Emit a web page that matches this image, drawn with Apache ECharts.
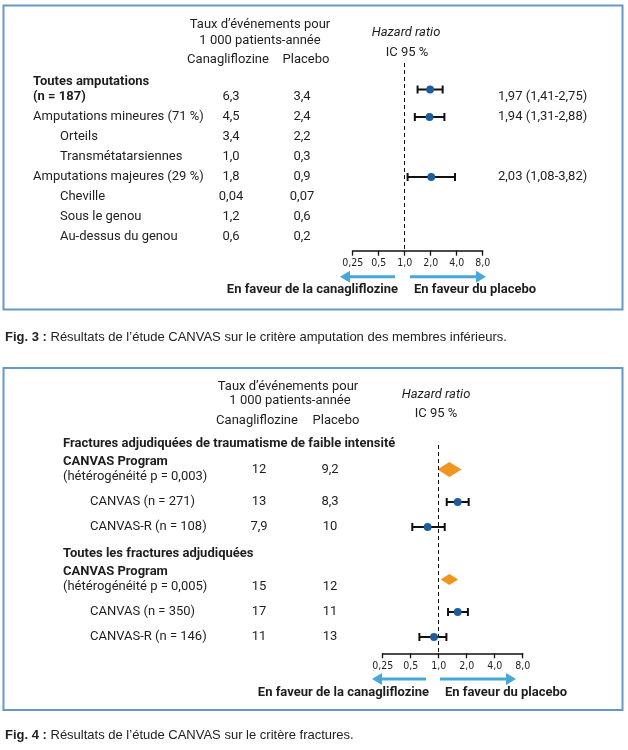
<!DOCTYPE html>
<html><head><meta charset="utf-8">
<script src="https://cdn.jsdelivr.net/npm/echarts@6/dist/echarts.min.js"></script>
<style>html,body{margin:0;padding:0;background:#fff}#c{width:628px;height:750px}</style>
</head><body><div id="c"></div>
<script>
// ---------- DATA ----------
const tickValues = [0.25, 0.5, 1, 2, 4, 8];
const tickLabels = ["0,25", "0,5", "1,0", "2,0", "4,0", "8,0"];

// Fig. 3 – amputations
const fig1Labels = ["Toutes amputations\n(n = 187)", "Amputations mineures (71 %)", "Orteils", "Transmétatarsiennes",
  "Amputations majeures (29 %)", "Cheville", "Sous le genou", "Au-dessus du genou"];
const fig1Indent = [0, 0, 1, 1, 0, 1, 1, 1];
const fig1Bold = [1, 0, 0, 0, 0, 0, 0, 0];
const fig1Canagliflozine = ["6,3", "4,5", "3,4", "1,0", "1,8", "0,04", "1,2", "0,6"];
const fig1Placebo = ["3,4", "2,4", "2,2", "0,3", "0,9", "0,07", "0,6", "0,2"];
const fig1HR = [1.97, 1.94, null, null, 2.03, null, null, null];
const fig1Low = [1.41, 1.31, null, null, 1.08, null, null, null];
const fig1High = [2.75, 2.88, null, null, 3.82, null, null, null];

// Fig. 4 – fractures
const fig2Labels = ["Fractures adjudiquées de traumatisme de faible intensité",
  "CANVAS Program\n(hétérogénéité p = 0,003)", "CANVAS (n = 271)", "CANVAS-R (n = 108)",
  "Toutes les fractures adjudiquées",
  "CANVAS Program\n(hétérogénéité p = 0,005)", "CANVAS (n = 350)", "CANVAS-R (n = 146)"];
const fig2Kind = ["heading", "pooled", "study", "study", "heading", "pooled", "study", "study"];
const fig2Canagliflozine = [null, "12", "13", "7,9", null, "15", "17", "11"];
const fig2Placebo = [null, "9,2", "8,3", "10", null, "12", "11", "13"];
const fig2HR = [null, 1.30, 1.60, 0.76, null, 1.30, 1.60, 0.89];
const fig2Low = [null, 0.97, 1.22, 0.52, null, 1.05, 1.26, 0.62];
const fig2High = [null, 1.76, 2.10, 1.16, null, 1.62, 2.06, 1.21];

// ---------- LAYOUT / STYLE ----------
const FONT = "Roboto, 'Noto Sans', sans-serif";
const NARROW = "'Liberation Sans Narrow', 'DejaVu Sans Condensed', Roboto, sans-serif";
const CAPFONT = "'Liberation Sans', Arial, sans-serif";
const FS = 13;
const TXT = "#1e1e1e";
const BLUE_DOT = "#1d5c9d";
const ORANGE = "#f0951d";
const ARROW = "#47a7d8";
const BOX = "#6598c5";
const LINE_STEP = 15;

const tableItems = [];
function addText(x, y, text, o) {
  tableItems.push(Object.assign({ x: x, y: y, text: text, align: 'left', weight: 'normal', size: FS }, o || {}));
}
const fmt = v => v.toFixed(2).replace('.', ',');

// figure 1 rows
const fig1RowY = [];
(function () {
  let y = 82;
  fig1Labels.forEach((lab, i) => {
    const lines = lab.split('\n');
    const last = y + (lines.length - 1) * LINE_STEP;
    const center = (y + last) / 2;
    lines.forEach((ln, k) => addText(fig1Indent[i] ? 60 : 33, y + k * LINE_STEP, ln, { weight: fig1Bold[i] ? 'bold' : 'normal' }));
    addText(231, last, fig1Canagliflozine[i], { align: 'center' });
    addText(302, last, fig1Placebo[i], { align: 'center' });
    if (fig1HR[i] != null) addText(498, last, fmt(fig1HR[i]) + ' (' + fmt(fig1Low[i]) + '-' + fmt(fig1High[i]) + ')');
    fig1RowY.push(center);
    y = last + 20;
  });
})();

// figure 2 rows
const fig2RowY = [];
const fig2ValueAt = [null, 'center', 'center', 'center', null, 'last', 'center', 'center'];
(function () {
  let y = 444;
  fig2Labels.forEach((lab, i) => {
    const kind = fig2Kind[i];
    const lines = lab.split('\n');
    const last = y + (lines.length - 1) * LINE_STEP;
    const center = (y + last) / 2;
    lines.forEach((ln, k) => {
      const bold = kind === 'heading' || (kind === 'pooled' && k === 0);
      addText(kind === 'study' ? 90 : 63, y + k * LINE_STEP, ln, { weight: bold ? 'bold' : 'normal' });
    });
    if (fig2Canagliflozine[i] != null) {
      const vy = fig2ValueAt[i] === 'last' ? last : center;
      addText(259, vy, fig2Canagliflozine[i], { align: 'center' });
      addText(330, vy, fig2Placebo[i], { align: 'center' });
    }
    fig2RowY.push(center);
    const next = fig2Kind[i + 1];
    let gap = 25;
    if (kind === 'heading') gap = 18;
    else if (next === 'heading') gap = 27;
    y = last + gap;
  });
})();

// ---------- CHART ----------
const chart = echarts.init(document.getElementById('c'), null, { renderer: 'canvas', width: 628, height: 750 });

function forestAxis(gridIndex) {
  return {
    gridIndex: gridIndex, type: 'log', logBase: 2, min: 0.25, max: 8, splitNumber: 5,
    axisLine: { show: true, onZero: false, lineStyle: { color: '#111', width: 1.5 } },
    axisTick: { show: true, length: 5, lineStyle: { color: '#111', width: 1.3 } },
    splitLine: { show: false },
    axisLabel: {
      show: true, margin: 7, color: TXT, fontSize: 10.5, fontFamily: NARROW, showMinLabel: true, showMaxLabel: true,
      formatter: v => { const i = tickValues.findIndex(t => Math.abs(t - v) < 1e-6); return i >= 0 ? tickLabels[i] : ''; }
    }
  };
}

function renderCI(params, api) {
  const y = api.value(3);
  const pc = api.coord([api.value(0), y]);
  const pl = api.coord([api.value(1), y]);
  const ph = api.coord([api.value(2), y]);
  const cy = pc[1], cap = 4;
  const st = { stroke: '#111', lineWidth: 2 };
  return {
    type: 'group', children: [
      { type: 'line', shape: { x1: pl[0], y1: cy, x2: ph[0], y2: cy }, style: st },
      { type: 'line', shape: { x1: pl[0], y1: cy - cap, x2: pl[0], y2: cy + cap }, style: st },
      { type: 'line', shape: { x1: ph[0], y1: cy - cap, x2: ph[0], y2: cy + cap }, style: st },
      { type: 'circle', shape: { cx: pc[0], cy: cy, r: 3.9 }, style: { fill: BLUE_DOT } }
    ]
  };
}
function renderDiamond(params, api) {
  const y = api.value(3);
  const pc = api.coord([api.value(0), y]);
  const pl = api.coord([api.value(1), y]);
  const ph = api.coord([api.value(2), y]);
  const h = (ph[0] - pl[0]) * 0.63;
  return {
    type: 'polygon',
    shape: { points: [[pl[0], pc[1]], [pc[0], pc[1] - h / 2], [ph[0], pc[1]], [pc[0], pc[1] + h / 2]] },
    style: { fill: ORANGE }
  };
}
function renderText(params, api) {
  const it = tableItems[params.dataIndex];
  const p = api.coord([api.value(0), api.value(1)]);
  return {
    type: 'text', x: p[0], y: p[1],
    style: { text: it.text, fill: TXT, fontSize: it.size, fontWeight: it.weight, fontFamily: FONT, align: it.align, verticalAlign: 'middle' }
  };
}

const dashLine = { silent: true, symbol: 'none', label: { show: false }, lineStyle: { color: '#111', width: 1, type: [4, 3] }, data: [{ xAxis: 1 }] };

const fig1Data = [], fig2Study = [], fig2Pooled = [];
fig1HR.forEach((v, i) => { if (v != null) fig1Data.push([v, fig1Low[i], fig1High[i], fig1RowY[i]]); });
fig2HR.forEach((v, i) => {
  if (v == null) return;
  const d = [v, fig2Low[i], fig2High[i], fig2RowY[i]];
  (fig2Kind[i] === 'pooled' ? fig2Pooled : fig2Study).push(d);
});

// decorations
function arrows(y, l0, l1, r0, r1) {
  const s = { stroke: ARROW, lineWidth: 3 };
  return [
    { type: 'polyline', shape: { points: [[l0, y], [l1 + 8, y]] }, style: s },
    { type: 'polygon', shape: { points: [[l1, y], [l1 + 10, y - 6], [l1 + 10, y + 6]] }, style: { fill: ARROW } },
    { type: 'polyline', shape: { points: [[r0, y], [r1 - 8, y]] }, style: s },
    { type: 'polygon', shape: { points: [[r1, y], [r1 - 10, y - 6], [r1 - 10, y + 6]] }, style: { fill: ARROW } }
  ];
}
function txt(x, y, text, o) {
  return { type: 'text', x: x, y: y, style: Object.assign({ text: text, fill: TXT, fontSize: FS, fontFamily: FONT, align: 'center', verticalAlign: 'middle' }, o || {}) };
}
const capRich = { b: { fontWeight: 'bold', fontFamily: CAPFONT, fontSize: 13, fill: '#222' } };

const graphics = [
  { type: 'rect', z: -1, shape: { x: 3.5, y: 5.5, width: 619, height: 304 }, style: { fill: 'none', stroke: BOX, lineWidth: 2 } },
  { type: 'rect', z: -1, shape: { x: 3.5, y: 368, width: 619, height: 342 }, style: { fill: 'none', stroke: BOX, lineWidth: 2 } },
  // fig 1 header
  txt(260, 25, "Taux d’événements pour"),
  txt(260, 41, "1 000 patients-année"),
  txt(228, 60, "Canagliflozine"),
  txt(306, 60, "Placebo"),
  txt(406, 33, "Hazard ratio", { fontStyle: 'italic' }),
  txt(407, 53, "IC 95 %"),
  txt(398, 290, "En faveur de la canagliflozine", { align: 'right', fontWeight: 'bold' }),
  txt(414, 290, "En faveur du placebo", { align: 'left', fontWeight: 'bold' }),
  // fig 2 header
  txt(288, 387, "Taux d’événements pour"),
  txt(290, 401, "1 000 patients-année"),
  txt(257, 421, "Canagliflozine"),
  txt(336, 421, "Placebo"),
  txt(436, 395, "Hazard ratio", { fontStyle: 'italic' }),
  txt(436, 414, "IC 95 %"),
  txt(429, 693, "En faveur de la canagliflozine", { align: 'right', fontWeight: 'bold' }),
  txt(445, 693, "En faveur du placebo", { align: 'left', fontWeight: 'bold' }),
  // captions
  { type: 'text', x: 5, y: 337, style: { text: "{b|Fig. 3 :} Résultats de l’étude CANVAS sur le critère amputation des membres inférieurs.", rich: capRich, fill: '#222', fontSize: 13, fontFamily: CAPFONT, verticalAlign: 'middle' } },
  { type: 'text', x: 5, y: 735, style: { text: "{b|Fig. 4 :} Résultats de l’étude CANVAS sur le critère fractures.", rich: capRich, fill: '#222', fontSize: 13, fontFamily: CAPFONT, verticalAlign: 'middle' } }
].concat(arrows(276.7, 395, 340, 410, 486)).concat(arrows(679, 426, 372, 440, 516));

chart.setOption({
  animation: false,
  backgroundColor: '#fff',
  grid: [
    { left: 0, top: 0, width: 628, height: 750 },
    { left: 352.7, top: 63, width: 130, height: 187.7 },
    { left: 382.7, top: 445, width: 140, height: 208.3 }
  ],
  xAxis: [
    { gridIndex: 0, type: 'value', min: 0, max: 628, show: false },
    forestAxis(1),
    forestAxis(2)
  ],
  yAxis: [
    { gridIndex: 0, type: 'value', min: 0, max: 750, inverse: true, show: false },
    { gridIndex: 1, type: 'value', min: 63, max: 250.7, inverse: true, show: false },
    { gridIndex: 2, type: 'value', min: 445, max: 653.3, inverse: true, show: false }
  ],
  series: [
    { type: 'custom', name: 'table', xAxisIndex: 0, yAxisIndex: 0, renderItem: renderText, silent: true,
      data: tableItems.map(t => [t.x, t.y]) },
    { type: 'custom', name: 'fig3', xAxisIndex: 1, yAxisIndex: 1, renderItem: renderCI, encode: { x: [0, 1, 2], y: 3 },
      data: fig1Data, markLine: dashLine, z: 3 },
    { type: 'custom', name: 'fig4 studies', xAxisIndex: 2, yAxisIndex: 2, renderItem: renderCI, encode: { x: [0, 1, 2], y: 3 },
      data: fig2Study, markLine: dashLine, z: 3 },
    { type: 'custom', name: 'fig4 pooled', xAxisIndex: 2, yAxisIndex: 2, renderItem: renderDiamond, encode: { x: [0, 1, 2], y: 3 },
      data: fig2Pooled, z: 3 }
  ],
  graphic: graphics
});
</script>
</body></html>
